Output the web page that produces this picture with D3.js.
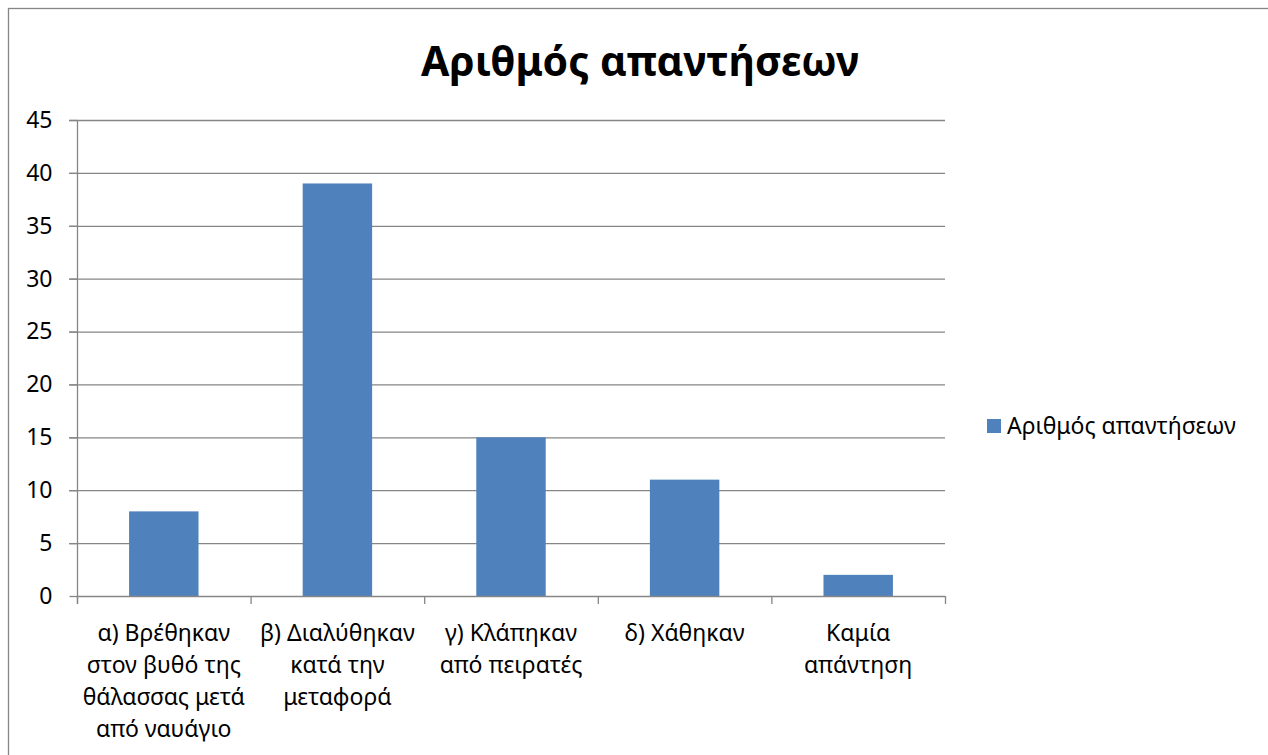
<!DOCTYPE html>
<html>
<head>
<meta charset="utf-8">
<script src="https://cdn.jsdelivr.net/npm/d3@7"></script>
<style>
  body { margin: 0; background: #fff; }
  text { font-family: "Noto Sans", "Open Sans", sans-serif; fill: #000; }
</style>
</head>
<body>
<div id="chart"></div>
<script>
// chart data
var title = "Αριθμός απαντήσεων";
var seriesName = "Αριθμός απαντήσεων";
var categories = [
  ["α) Βρέθηκαν", "στον βυθό της", "θάλασσας μετά", "από ναυάγιο"],
  ["β) Διαλύθηκαν", "κατά την", "μεταφορά"],
  ["γ) Κλάπηκαν", "από πειρατές"],
  ["δ) Χάθηκαν"],
  ["Καμία", "απάντηση"]
];
var values = [8, 39, 15, 11, 2];
var yTicks = [0, 5, 10, 15, 20, 25, 30, 35, 40, 45];

var W = 1268, H = 755;
var plot = {left: 77, right: 945, top: 120, bottom: 596};
var gridColor = "#868686";
var barColor = "#4F81BD";

var svg = d3.select("#chart").append("svg")
    .attr("width", W).attr("height", H);

// outer chart border (runs off the right and bottom edges)
svg.append("rect")
    .attr("x", 8.5).attr("y", 8.5)
    .attr("width", 1400).attr("height", 900)
    .attr("fill", "none")
    .attr("stroke", gridColor)
    .attr("stroke-width", 1.3);

var x = d3.scaleBand()
    .domain(d3.range(values.length))
    .range([plot.left, plot.right])
    .paddingInner(0.6)
    .paddingOuter(0.3);

var y = d3.scaleLinear()
    .domain([0, 45])
    .range([plot.bottom, plot.top]);

// gridlines
svg.append("g").selectAll("line")
    .data(yTicks.filter(function(d) { return d > 0; }))
    .enter().append("line")
    .attr("x1", plot.left - 8).attr("x2", plot.right)
    .attr("y1", function(d) { return y(d) + 0.5; })
    .attr("y2", function(d) { return y(d) + 0.5; })
    .attr("stroke", gridColor).attr("stroke-width", 1.3);

// y axis
var yAxis = svg.append("g")
    .attr("transform", "translate(" + (plot.left + 0.5) + ",0)")
    .call(d3.axisLeft(y).tickValues(yTicks).tickSize(8).tickPadding(17));
yAxis.select(".domain").remove();
yAxis.append("line")
    .attr("y1", plot.top).attr("y2", plot.bottom + 8)
    .attr("stroke", gridColor).attr("stroke-width", 1.3);
yAxis.selectAll(".tick line").attr("stroke", gridColor).attr("stroke-width", 1.3);
yAxis.selectAll(".tick text")
    .attr("font-size", 23)
    .style("font-family", "'Noto Sans', sans-serif")
    .attr("fill", "#000");

// bars
svg.append("g").selectAll("rect")
    .data(values)
    .enter().append("rect")
    .attr("x", function(d, i) { return x(i); })
    .attr("width", x.bandwidth())
    .attr("y", function(d) { return y(d); })
    .attr("height", function(d) { return y(0) - y(d); })
    .attr("fill", barColor);

// x axis baseline and category ticks
var step = x.step();
var xb = svg.append("g");
xb.append("line")
    .attr("x1", plot.left).attr("x2", plot.right)
    .attr("y1", plot.bottom + 0.5).attr("y2", plot.bottom + 0.5)
    .attr("stroke", gridColor).attr("stroke-width", 1.3);
xb.selectAll("line.tk")
    .data(d3.range(values.length + 1))
    .enter().append("line").attr("class", "tk")
    .attr("x1", function(i) { return plot.left + i * step + 0.5; })
    .attr("x2", function(i) { return plot.left + i * step + 0.5; })
    .attr("y1", plot.bottom).attr("y2", plot.bottom + 8)
    .attr("stroke", gridColor).attr("stroke-width", 1.3);

// category labels
var lab = svg.append("g").selectAll("text")
    .data(categories)
    .enter().append("text")
    .attr("text-anchor", "middle")
    .attr("font-size", 23);
lab.selectAll("tspan")
    .data(function(d, i) { return d.map(function(s) { return {s: s, i: i}; }); })
    .enter().append("tspan")
    .attr("x", function(d) { return x(d.i) + x.bandwidth() / 2; })
    .attr("y", function(d, j) { return 641 + j * 32; })
    .text(function(d) { return d.s; });

// title
svg.append("text")
    .attr("x", 640).attr("y", 76)
    .attr("text-anchor", "middle")
    .attr("font-size", 41)
    .attr("font-weight", "bold")
    .text(title);

// legend
svg.append("rect")
    .attr("x", 987).attr("y", 419)
    .attr("width", 14).attr("height", 14)
    .attr("fill", barColor);
svg.append("text")
    .attr("x", 1007).attr("y", 434)
    .attr("font-size", 23)
    .text(seriesName);
</script>
</body>
</html>
